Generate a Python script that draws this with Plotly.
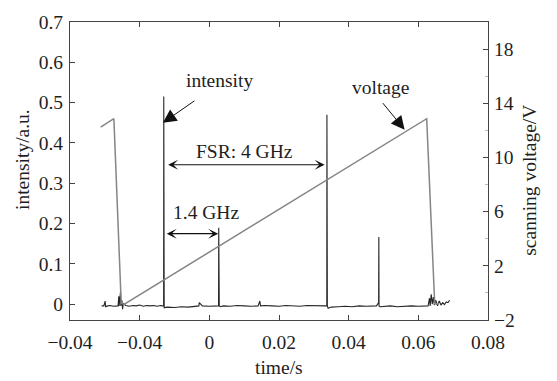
import plotly.graph_objects as go

# ---------------- data ----------------
# intensity trace (left axis)
t_int = [-0.0309, -0.0303, -0.0299, -0.0298, -0.0292, -0.0284, -0.0276, -0.0268,
         -0.0262, -0.0260, -0.0259, -0.0255, -0.0254, -0.0251, -0.0249, -0.0247,
         -0.0240, -0.0230, -0.0220, -0.0210, -0.0200, -0.0190, -0.0180, -0.0170,
         -0.0160, -0.0150, -0.0140, -0.0134,
         -0.01312, -0.01308, -0.01304, -0.01300, -0.01296, -0.0128,
         -0.0120, -0.0100, -0.0080, -0.0060, -0.0040, -0.0030, -0.0029, -0.0020,
         0.0000, 0.0020, 0.00265, 0.00270, 0.00275, 0.00280, 0.00285, 0.0032,
         0.0040, 0.0060, 0.0080, 0.0100, 0.0120, 0.0140, 0.0145, 0.0147, 0.0160,
         0.0180, 0.0200, 0.0220, 0.0240, 0.0260, 0.0280, 0.0300, 0.0320, 0.0334,
         0.03372, 0.03376, 0.03380, 0.03384, 0.03388, 0.0341, 0.0350,
         0.0370, 0.0390, 0.0410, 0.0430, 0.0450, 0.0470, 0.0480,
         0.04860, 0.04866, 0.04872, 0.0490, 0.0500,
         0.0520, 0.0540, 0.0560, 0.0580, 0.0600, 0.0615, 0.0628,
         0.0632, 0.0634, 0.0637, 0.0640, 0.0643, 0.0646, 0.0650, 0.0655,
         0.0660, 0.0665, 0.0670, 0.0675, 0.0680, 0.0685, 0.0690]
i_int = [-0.004, -0.004, 0.008, -0.006, -0.004, -0.003, -0.005, -0.004,
         -0.004, 0.020, -0.004, 0.030, -0.004, 0.010, -0.012, 0.002,
         -0.003, -0.005, -0.003, -0.004, -0.002, -0.005, -0.003, -0.004,
         -0.003, -0.005, -0.003, -0.004,
         -0.004, 0.515, 0.010, 0.450, -0.010, -0.008,
         -0.007, -0.008, -0.006, -0.007, -0.005, -0.004, 0.004, -0.004,
         -0.005, -0.004, -0.004, 0.190, 0.077, 0.077, -0.004, -0.006,
         -0.004, -0.005, -0.003, -0.004, -0.005, -0.004, 0.008, -0.004, -0.003,
         -0.004, -0.005, -0.003, -0.004, -0.005, -0.003, -0.004, -0.004, -0.004,
         -0.004, 0.470, 0.435, 0.435, -0.004, -0.010, -0.007,
         -0.006, -0.005, -0.006, -0.004, -0.005, -0.004, -0.004,
         0.004, 0.167, -0.004, -0.006, -0.005,
         -0.004, -0.006, -0.005, -0.004, -0.005, -0.004, -0.004,
         0.015, -0.004, 0.025, 0.000, 0.018, -0.002, 0.010, -0.004,
         0.008, -0.002, 0.004, -0.001, 0.006, 0.004, 0.010]

# scanning voltage trace (right axis)
t_volt = [-0.0312, -0.0274, -0.0253, -0.0245, 0.0624, 0.0647, 0.0660]
v_volt = [12.24, 12.86, -0.77, -0.85, 12.86, -0.80, -0.80]

# axis ticks
x_tickvals = [-0.04, -0.02, 0, 0.02, 0.04, 0.06, 0.08]
x_ticktext = ["\u22120.04", "\u22120.04", "0", "0.02", "0.04", "0.06", "0.08"]
y_tickvals = [0, 0.1, 0.2, 0.3, 0.4, 0.5, 0.6, 0.7]
y_ticktext = ["0", "0.1", "0.2", "0.3", "0.4", "0.5", "0.6", "0.7"]
y2_tickvals = [-2, 2, 6, 10, 14, 18]
y2_ticktext = ["\u22122", "2", "6", "10", "14", "18"]

FONT = "Liberation Serif"
FS = 19.5
INK = "#1e1e1e"

fig = go.Figure()
fig.add_trace(go.Scatter(x=t_volt, y=v_volt, yaxis="y2", mode="lines",
                         line=dict(color="#858585", width=1.5), showlegend=False))
fig.add_trace(go.Scatter(x=t_int, y=i_int, mode="lines",
                         line=dict(color="#262626", width=1.1), showlegend=False))

ann = []
# text labels
ann.append(dict(x=0.0028, y=0.554, xref="x", yref="y", text="intensity", showarrow=False,
                font=dict(family=FONT, size=FS, color=INK)))
ann.append(dict(x=0.0490, y=0.537, xref="x", yref="y", text="voltage", showarrow=False,
                font=dict(family=FONT, size=FS, color=INK)))
ann.append(dict(x=0.0101, y=0.378, xref="x", yref="y", text="FSR: 4 GHz", showarrow=False,
                font=dict(family=FONT, size=FS, color=INK)))
ann.append(dict(x=-0.0011, y=0.228, xref="x", yref="y", text="1.4 GHz", showarrow=False,
                font=dict(family=FONT, size=FS, color=INK)))
# pointer arrows
ann.append(dict(x=-0.01333, y=0.450, xref="x", yref="y", text="", showarrow=True,
                ax=33, ay=-23, arrowhead=2, arrowsize=2.7, arrowwidth=1, arrowcolor="#111"))
ann.append(dict(x=0.05607, y=0.433, xref="x", yref="y", text="", showarrow=True,
                ax=-23, ay=-28, arrowhead=2, arrowsize=2.7, arrowwidth=1, arrowcolor="#111"))
# double arrows
ann.append(dict(x=0.0331, y=0.346, xref="x", yref="y", text="", showarrow=True,
                ax=-158, ay=0, arrowhead=3, startarrowhead=3, arrowside="end+start",
                arrowsize=1.4, startarrowsize=1.4, arrowwidth=1.2, arrowcolor="#111"))
ann.append(dict(x=0.00255, y=0.175, xref="x", yref="y", text="", showarrow=True,
                ax=-53, ay=0, arrowhead=3, startarrowhead=3, arrowside="end+start",
                arrowsize=1.4, startarrowsize=1.4, arrowwidth=1.2, arrowcolor="#111"))
# axis titles
ann.append(dict(x=-0.115, y=0.54, xref="paper", yref="paper", text="intensity/a.u.",
                textangle=-90, showarrow=False, xanchor="center", yanchor="middle",
                font=dict(family=FONT, size=FS, color=INK)))
ann.append(dict(x=1.1, y=0.47, xref="paper", yref="paper", text="scanning voltage/V",
                textangle=-90, showarrow=False, xanchor="center", yanchor="middle",
                font=dict(family=FONT, size=FS, color=INK)))
ann.append(dict(x=0.5, y=-0.158, xref="paper", yref="paper", text="time/s",
                showarrow=False, xanchor="center", yanchor="middle",
                font=dict(family=FONT, size=FS, color=INK)))

axis_common = dict(showgrid=False, zeroline=False, showline=True, linecolor="#444",
                   linewidth=1, ticks="inside", ticklen=5, tickcolor="#444",
                   tickfont=dict(family=FONT, size=FS, color=INK))

fig.update_layout(
    width=557, height=381,
    margin=dict(l=70, r=69, t=15, b=61),
    paper_bgcolor="white", plot_bgcolor="white",
    font=dict(family=FONT, size=FS, color=INK),
    xaxis=dict(range=[-0.04, 0.08], tickmode="array", tickvals=x_tickvals,
               ticktext=x_ticktext, mirror="ticks", ticklabelstandoff=5, **axis_common),
    yaxis=dict(range=[-0.039, 0.7], tickmode="array", tickvals=y_tickvals,
               ticktext=y_ticktext, ticklabelstandoff=2, **axis_common),
    yaxis2=dict(range=[-2, 20], tickmode="array", tickvals=y2_tickvals,
                ticktext=y2_ticktext, overlaying="y", side="right", ticklabelstandoff=1,
                minor=dict(ticks="inside", tickvals=[0, 4, 8, 12, 16, 20], ticklen=3,
                           tickcolor="#bbb"),
                **axis_common),
    annotations=ann,
)

fig.write_html("out.html")
